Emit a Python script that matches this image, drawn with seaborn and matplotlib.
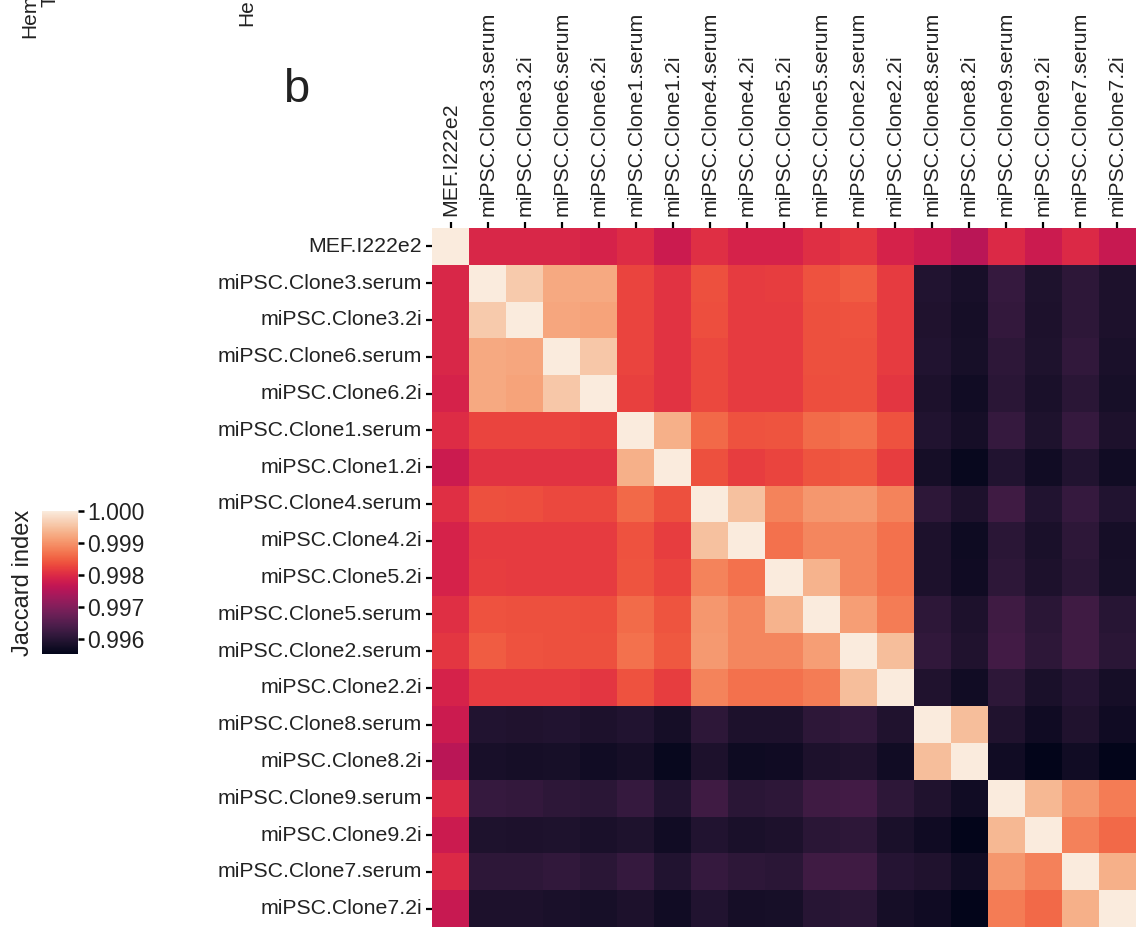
import numpy as np
import pandas as pd
import matplotlib
matplotlib.use("Agg")
import matplotlib.pyplot as plt
import seaborn as sns

sns.set_theme(style="ticks")
plt.rcParams['font.family'] = ['Liberation Sans', 'DejaVu Sans']

samples = ["MEF.I222e2",
           "miPSC.Clone3.serum", "miPSC.Clone3.2i",
           "miPSC.Clone6.serum", "miPSC.Clone6.2i",
           "miPSC.Clone1.serum", "miPSC.Clone1.2i",
           "miPSC.Clone4.serum", "miPSC.Clone4.2i",
           "miPSC.Clone5.2i", "miPSC.Clone5.serum",
           "miPSC.Clone2.serum", "miPSC.Clone2.2i",
           "miPSC.Clone8.serum", "miPSC.Clone8.2i",
           "miPSC.Clone9.serum", "miPSC.Clone9.2i",
           "miPSC.Clone7.serum", "miPSC.Clone7.2i"]

row_mef = [1.00000, 0.99794, 0.99794, 0.99794, 0.99790, 0.99801, 0.99777, 0.99806, 0.99790, 0.99790, 0.99806, 0.99812, 0.99790, 0.99777, 0.99759, 0.99799, 0.99777, 0.99799, 0.99772]
row_c3s = [0.99794, 1.00000, 0.99960, 0.99924, 0.99924, 0.99826, 0.99808, 0.99837, 0.99817, 0.99819, 0.99839, 0.99848, 0.99817, 0.99593, 0.99582, 0.99616, 0.99589, 0.99607, 0.99587]
row_c3i = [0.99794, 0.99960, 1.00000, 0.99920, 0.99917, 0.99826, 0.99808, 0.99835, 0.99817, 0.99817, 0.99837, 0.99839, 0.99817, 0.99591, 0.99578, 0.99613, 0.99587, 0.99607, 0.99587]
row_c6s = [0.99794, 0.99924, 0.99920, 1.00000, 0.99958, 0.99826, 0.99808, 0.99830, 0.99817, 0.99817, 0.99837, 0.99837, 0.99817, 0.99593, 0.99580, 0.99607, 0.99589, 0.99611, 0.99584]
row_c6i = [0.99790, 0.99924, 0.99917, 0.99958, 1.00000, 0.99823, 0.99808, 0.99830, 0.99817, 0.99817, 0.99835, 0.99837, 0.99812, 0.99587, 0.99573, 0.99602, 0.99584, 0.99602, 0.99580]
row_c1s = [0.99801, 0.99826, 0.99826, 0.99826, 0.99823, 1.00000, 0.99931, 0.99859, 0.99839, 0.99841, 0.99861, 0.99866, 0.99839, 0.99593, 0.99578, 0.99616, 0.99589, 0.99616, 0.99587]
row_c1i = [0.99777, 0.99808, 0.99808, 0.99808, 0.99808, 0.99931, 1.00000, 0.99837, 0.99819, 0.99826, 0.99841, 0.99844, 0.99819, 0.99578, 0.99562, 0.99593, 0.99573, 0.99593, 0.99573]
row_c4s = [0.99806, 0.99837, 0.99835, 0.99830, 0.99830, 0.99859, 0.99837, 1.00000, 0.99951, 0.99884, 0.99904, 0.99906, 0.99884, 0.99607, 0.99587, 0.99627, 0.99593, 0.99616, 0.99593]
row_c4i = [0.99790, 0.99817, 0.99817, 0.99817, 0.99817, 0.99839, 0.99819, 0.99951, 1.00000, 0.99866, 0.99888, 0.99888, 0.99866, 0.99587, 0.99569, 0.99602, 0.99584, 0.99607, 0.99578]
row_c5i = [0.99790, 0.99819, 0.99817, 0.99817, 0.99817, 0.99841, 0.99826, 0.99884, 0.99866, 1.00000, 0.99935, 0.99888, 0.99866, 0.99587, 0.99571, 0.99607, 0.99587, 0.99602, 0.99580]
row_c5s = [0.99806, 0.99839, 0.99837, 0.99837, 0.99835, 0.99861, 0.99841, 0.99904, 0.99888, 0.99935, 1.00000, 0.99911, 0.99877, 0.99607, 0.99587, 0.99627, 0.99602, 0.99627, 0.99600]
row_c2s = [0.99812, 0.99848, 0.99839, 0.99837, 0.99837, 0.99866, 0.99844, 0.99906, 0.99888, 0.99888, 0.99911, 1.00000, 0.99946, 0.99611, 0.99591, 0.99631, 0.99607, 0.99627, 0.99602]
row_c2i = [0.99790, 0.99817, 0.99817, 0.99817, 0.99812, 0.99839, 0.99819, 0.99884, 0.99866, 0.99866, 0.99877, 0.99946, 1.00000, 0.99591, 0.99573, 0.99607, 0.99584, 0.99598, 0.99578]
row_c8s = [0.99777, 0.99593, 0.99591, 0.99593, 0.99587, 0.99593, 0.99578, 0.99607, 0.99587, 0.99587, 0.99607, 0.99611, 0.99591, 1.00000, 0.99946, 0.99591, 0.99571, 0.99591, 0.99571]
row_c8i = [0.99759, 0.99582, 0.99578, 0.99580, 0.99573, 0.99578, 0.99562, 0.99587, 0.99569, 0.99571, 0.99587, 0.99591, 0.99573, 0.99946, 1.00000, 0.99573, 0.99553, 0.99573, 0.99553]
row_c9s = [0.99799, 0.99616, 0.99613, 0.99607, 0.99602, 0.99616, 0.99593, 0.99627, 0.99602, 0.99607, 0.99627, 0.99631, 0.99607, 0.99591, 0.99573, 1.00000, 0.99940, 0.99904, 0.99877]
row_c9i = [0.99777, 0.99589, 0.99587, 0.99589, 0.99584, 0.99589, 0.99573, 0.99593, 0.99584, 0.99587, 0.99602, 0.99607, 0.99584, 0.99571, 0.99553, 0.99940, 1.00000, 0.99882, 0.99859]
row_c7s = [0.99799, 0.99607, 0.99607, 0.99611, 0.99602, 0.99616, 0.99593, 0.99616, 0.99607, 0.99602, 0.99627, 0.99627, 0.99598, 0.99591, 0.99573, 0.99904, 0.99882, 1.00000, 0.99931]
row_c7i = [0.99772, 0.99587, 0.99587, 0.99584, 0.99580, 0.99587, 0.99573, 0.99593, 0.99578, 0.99580, 0.99600, 0.99602, 0.99578, 0.99571, 0.99553, 0.99877, 0.99859, 0.99931, 1.00000]

cbar_ticks = [0.996, 0.997, 0.998, 0.999, 1.000]

rows = [row_mef, row_c3s, row_c3i, row_c6s, row_c6i, row_c1s, row_c1i,
        row_c4s, row_c4i, row_c5i, row_c5s, row_c2s, row_c2i,
        row_c8s, row_c8i, row_c9s, row_c9i, row_c7s, row_c7i]
df = pd.DataFrame(rows, index=samples, columns=samples)

W, H = 1136, 927
fig = plt.figure(figsize=(W / 100, H / 100), dpi=100)
ax = fig.add_axes([432 / W, 0.0, (W - 432) / W, (927 - 228) / H])
cax = fig.add_axes([42 / W, 1 - 654 / H, 36 / W, 143 / H])

sns.heatmap(df, ax=ax, cmap="rocket", vmin=0.99553, vmax=1.0,
            cbar_ax=cax, cbar_kws={"format": "%.3f", "ticks": cbar_ticks},
            xticklabels=True, yticklabels=True, linewidths=0)

ax.xaxis.tick_top()
ax.set_xlabel("")
ax.set_ylabel("")
ax.tick_params(axis="both", length=4.5, width=1.6, color="black",
               labelsize=15.3, labelcolor="#222222")
ax.tick_params(axis="x", pad=4)
ax.tick_params(axis="y", pad=2.5)
plt.setp(ax.get_xticklabels(), rotation=90, ha="center", va="bottom")
plt.setp(ax.get_yticklabels(), rotation=0)

cax.tick_params(length=4.5, width=1.8, color="black", labelsize=16.5,
                labelcolor="#222222", pad=2)
cax.yaxis.set_label_position("left")
cax.set_ylabel("Jaccard index", fontsize=17, color="#222222", labelpad=6)
for s in cax.spines.values():
    s.set_visible(False)

fig.text(283 / W, 1 - 102 / H, "b", fontsize=34, color="#222222",
         ha="left", va="baseline")
fig.text(30 / W, 1 - 38 / H, "Hem", fontsize=15, color="#222222",
         rotation=90, ha="center", va="bottom")
fig.text(50 / W, 1 - 7 / H, "T", fontsize=15, color="#222222",
         rotation=90, ha="center", va="bottom")
fig.text(247 / W, 1 - 26 / H, "He", fontsize=15, color="#222222",
         rotation=90, ha="center", va="bottom")

fig.savefig("out.png", dpi=100)
